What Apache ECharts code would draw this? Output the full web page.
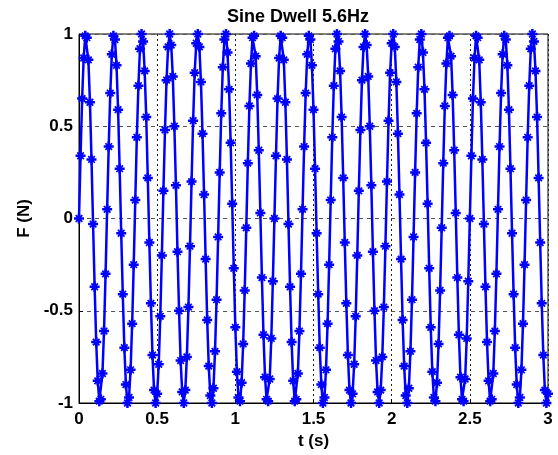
<!DOCTYPE html>
<html>
<head>
<meta charset="utf-8">
<title>Sine Dwell 5.6Hz</title>
<script src="https://cdn.jsdelivr.net/npm/echarts@6/dist/echarts.min.js"></script>
<style>
  html, body { margin: 0; padding: 0; background: #fff; }
  #chart { width: 558px; height: 455px; }
</style>
</head>
<body>
<div id="chart"></div>
<script>
// Force samples, recorded every 0.01 s from t = 0 to t = 3 s
const sampleStep = 0.01;
const forceN = [
  0, 0.34, 0.65, 0.87, 0.99, 0.98, 0.86, 0.63, 0.32, -0.03, -0.37, -0.67, -0.88, -0.99, -0.98, -0.84, -0.61, -0.30,
  0.05, 0.39, 0.68, 0.89, 0.99, 0.97, 0.83, 0.59, 0.27, -0.08, -0.41, -0.70, -0.90, -1.00, -0.97, -0.82, -0.57, -0.25,
  0.10, 0.44, 0.72, 0.92, 1.00, 0.96, 0.80, 0.55, 0.22, -0.13, -0.46, -0.74, -0.93, -1.00, -0.95, -0.79, -0.53, -0.20,
  0.15, 0.48, 0.75, 0.93, 1.00, 0.94, 0.77, 0.50, 0.18, -0.18, -0.50, -0.77, -0.94, -1.00, -0.93, -0.75, -0.48, -0.15,
  0.20, 0.53, 0.79, 0.95, 1.00, 0.93, 0.74, 0.46, 0.13, -0.22, -0.55, -0.80, -0.96, -1.00, -0.92, -0.72, -0.44, -0.10,
  0.25, 0.57, 0.82, 0.97, 1.00, 0.90, 0.70, 0.41, 0.08, -0.27, -0.59, -0.83, -0.97, -0.99, -0.89, -0.68, -0.39, -0.05,
  0.30, 0.61, 0.84, 0.98, 0.99, 0.88, 0.67, 0.37, 0.03, -0.32, -0.63, -0.86, -0.98, -0.99, -0.87, -0.65, -0.34,
  0, 0.34, 0.65, 0.87, 0.99, 0.98, 0.86, 0.63, 0.32, -0.03, -0.37, -0.67, -0.88, -0.99, -0.98, -0.84, -0.61, -0.30,
  0.05, 0.39, 0.68, 0.89, 0.99, 0.97, 0.83, 0.59, 0.27, -0.08, -0.41, -0.70, -0.90, -1.00, -0.97, -0.82, -0.57, -0.25,
  0.10, 0.44, 0.72, 0.92, 1.00, 0.96, 0.80, 0.55, 0.22, -0.13, -0.46, -0.74, -0.93, -1.00, -0.95, -0.79, -0.53, -0.20,
  0.15, 0.48, 0.75, 0.93, 1.00, 0.94, 0.77, 0.50, 0.18, -0.18, -0.50, -0.77, -0.94, -1.00, -0.93, -0.75, -0.48, -0.15,
  0.20, 0.53, 0.79, 0.95, 1.00, 0.93, 0.74, 0.46, 0.13, -0.22, -0.55, -0.80, -0.96, -1.00, -0.92, -0.72, -0.44, -0.10,
  0.25, 0.57, 0.82, 0.97, 1.00, 0.90, 0.70, 0.41, 0.08, -0.27, -0.59, -0.83, -0.97, -0.99, -0.89, -0.68, -0.39, -0.05,
  0.30, 0.61, 0.84, 0.98, 0.99, 0.88, 0.67, 0.37, 0.03, -0.32, -0.63, -0.86, -0.98, -0.99, -0.87, -0.65, -0.34,
  0, 0.34, 0.65, 0.87, 0.99, 0.98, 0.86, 0.63, 0.32, -0.03, -0.37, -0.67, -0.88, -0.99, -0.98, -0.84, -0.61, -0.30,
  0.05, 0.39, 0.68, 0.89, 0.99, 0.97, 0.83, 0.59, 0.27, -0.08, -0.41, -0.70, -0.90, -1.00, -0.97, -0.82, -0.57, -0.25,
  0.10, 0.44, 0.72, 0.92, 1.00, 0.96, 0.80, 0.55, 0.22, -0.13, -0.46, -0.74, -0.93, -1.00, -0.95
];

const titleText = 'Sine Dwell 5.6Hz';
const xName = 't (s)';
const yName = 'F (N)';

// chunky asterisk marker: plus + cross with thick arms
const starPath = 'path://M7.5,0H12.5V20H7.5Z M0,7.5H20V12.5H0Z M2.2,4.6L4.6,2.2L17.8,15.4L15.4,17.8Z M15.4,2.2L17.8,4.6L4.6,17.8L2.2,15.4Z';

const points = forceN.map((f, i) => [+(i * sampleStep).toFixed(2), f]);

const font = '"Liberation Sans", Arial, sans-serif';
const chart = echarts.init(document.getElementById('chart'), null, { renderer: 'canvas' });

chart.setOption({
  animation: false,
  backgroundColor: '#ffffff',
  title: {
    text: titleText,
    left: 293, top: 3, textAlign: 'center',
    textStyle: { fontFamily: font, fontWeight: 'bold', fontSize: 18, color: '#000' }
  },
  grid: {
    left: 79, right: 10, top: 34, bottom: 52,
    show: true, borderColor: '#000', borderWidth: 1, backgroundColor: 'transparent'
  },
  xAxis: {
    type: 'value', min: 0, max: 3, interval: 0.5,
    name: xName, nameLocation: 'middle', nameGap: 25,
    nameTextStyle: { fontFamily: font, fontWeight: 'bold', fontSize: 17, color: '#000' },
    axisLine: { show: true, onZero: false, lineStyle: { color: '#000', width: 1 } },
    axisTick: { show: true, inside: true, length: 4, lineStyle: { color: '#000' } },
    axisLabel: { fontFamily: font, fontWeight: 'bold', fontSize: 17, color: '#000', margin: 8 },
    splitLine: { show: true, lineStyle: { color: '#222', type: [2, 3], width: 1 } }
  },
  yAxis: {
    type: 'value', min: -1, max: 1, interval: 0.5,
    name: yName, nameLocation: 'middle', nameGap: 45, nameRotate: 90,
    nameTextStyle: { fontFamily: font, fontWeight: 'bold', fontSize: 17, color: '#000' },
    axisLine: { show: true, lineStyle: { color: '#000', width: 1 } },
    axisTick: { show: true, inside: true, length: 4, lineStyle: { color: '#000' } },
    axisLabel: { fontFamily: font, fontWeight: 'bold', fontSize: 17, color: '#000', margin: 6 },
    splitLine: { show: true, lineStyle: { color: '#555', type: [4, 4], width: 1 } }
  },
  series: [{
    type: 'line',
    data: points,
    lineStyle: { color: '#0000ff', width: 2.5 },
    itemStyle: { color: '#0000ff' },
    symbol: starPath,
    symbolSize: 10,
    showAllSymbol: true,
    clip: false
  }]
});
</script>
</body>
</html>
